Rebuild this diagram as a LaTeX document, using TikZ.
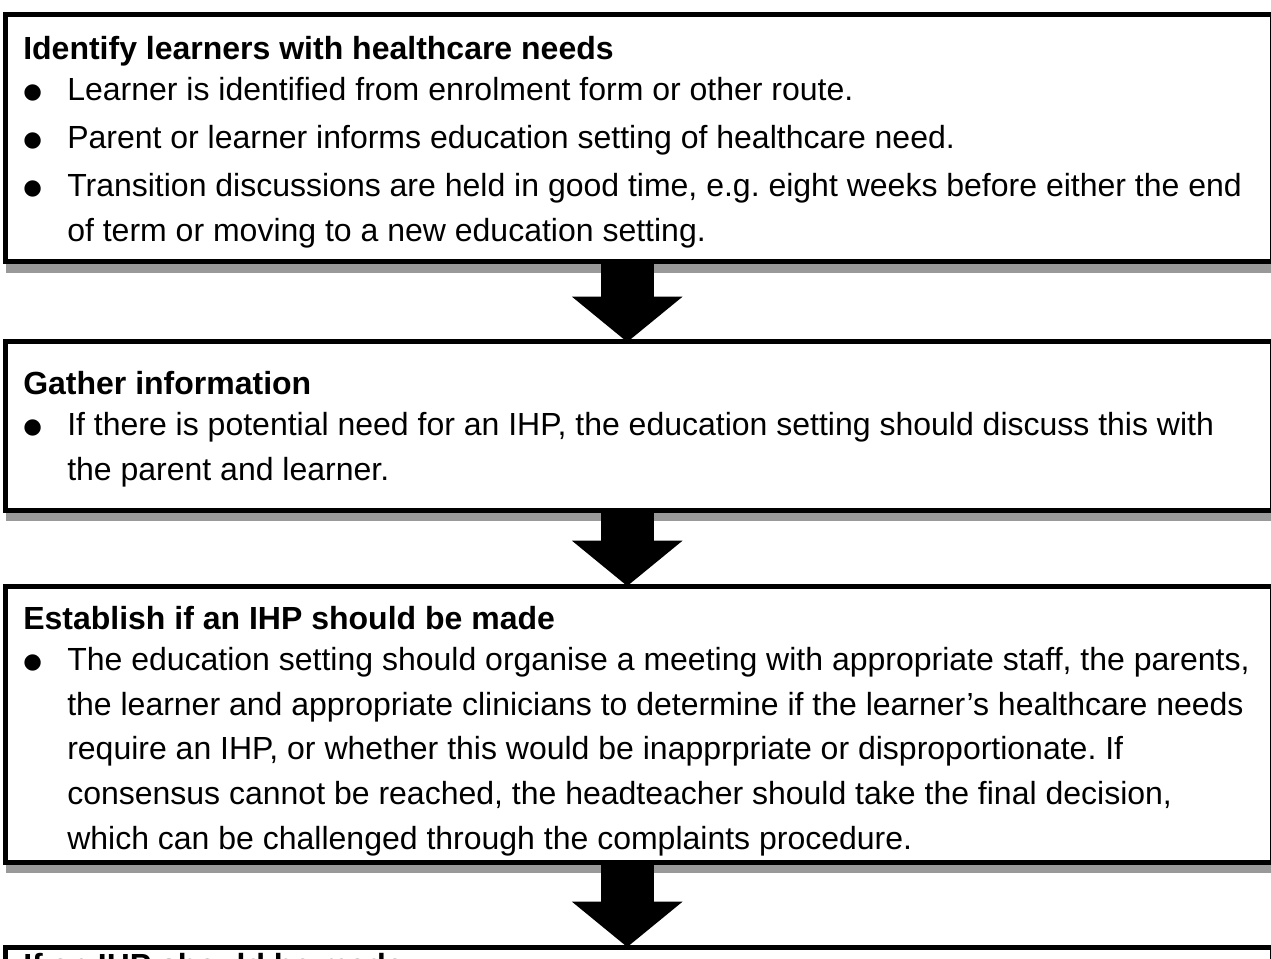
\documentclass[tikz,border=0pt]{standalone}
\usepackage{fontspec}
\setmainfont{Liberation Sans}
\newfontfamily\dotfont{DejaVu Sans}
\usetikzlibrary{arrows.meta,shadows}

\newcommand{\itemdot}{\makebox[33pt][l]{\raisebox{1.5pt}{\dotfont\fontsize{16pt}{16pt}\selectfont ●}}}
\newcommand{\itemcont}{\hspace*{33pt}}

\begin{document}
\begin{tikzpicture}[x=0.75pt,y=-0.75pt,
  stepbox/.style={draw=black, line width=3.75pt, fill=white, outer sep=0pt, inner sep=0pt,
    anchor=north west, minimum width=950.6pt,
    drop shadow={shadow xshift=0pt, shadow yshift=-8.25pt, fill=black!40, opacity=1}},
  steptext/.style={anchor=north west, align=left, inner sep=0pt,
    font=\fontsize{24pt}{33.5pt}\selectfont\frenchspacing},
  downarrow/.style={line width=40pt, -{Triangle[width=83pt,length=34pt,line width=0pt]}}]
\useasboundingbox (0,0) rectangle (1271,959);
\clip (0,0) rectangle (1271,959);

% boxes
\node[stepbox, minimum height=185.6pt] (b1) at (5.5,14.5) {};
\node[stepbox, minimum height=126pt] (b2) at (5.5,342) {};
\node[stepbox, minimum height=207pt] (b3) at (5.5,586) {};
\node[stepbox, minimum height=150pt] (b4) at (5.5,947) {};

% texts
\node[steptext] (t1) at (23,28) {\strut\textbf{Identify learners with healthcare needs}\\[-2.75pt]
\itemdot Learner is identified from enrolment form or other route.\\[2.5pt]
\itemdot Parent or learner informs education setting of healthcare need.\\[2.5pt]
\itemdot Transition discussions are held in good time, e.g. eight weeks before either the end\\
\itemcont of term or moving to a new education setting.};
\node[steptext] (t2) at (23,363) {\strut\textbf{Gather information}\\[-2.75pt]
\itemdot If there is potential need for an IHP, the education setting should discuss this with\\
\itemcont the parent and learner.};
\node[steptext] (t3) at (23,598) {\strut\textbf{Establish if an IHP should be made}\\[-2.75pt]
\itemdot The education setting should organise a meeting with appropriate staff, the parents,\\
\itemcont the learner and appropriate clinicians to determine if the learner’s healthcare needs\\
\itemcont require an IHP, or whether this would be inapprpriate or disproportionate. If\\
\itemcont consensus cannot be reached, the headteacher should take the final decision,\\
\itemcont which can be challenged through the complaints procedure.};
\node[steptext] (t4) at (23,945) {\strut\textbf{If an IHP should be made}};

% arrows
\draw[downarrow] ([xshift=-9pt]b1.south) -- ([xshift=-9pt]b2.north);
\draw[downarrow] ([xshift=-9pt]b2.south) -- ([xshift=-9pt]b3.north);
\draw[downarrow] ([xshift=-9pt]b3.south) -- ([xshift=-9pt]b4.north);
\end{tikzpicture}
\end{document}
